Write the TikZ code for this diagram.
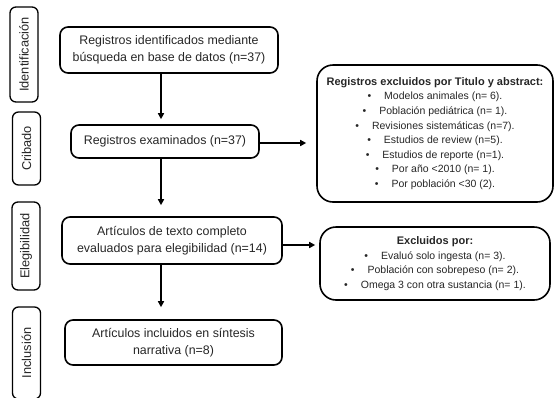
\documentclass[tikz,border=0pt]{standalone}
\usepackage{fontspec}
\setmainfont{Liberation Sans}
\usetikzlibrary{arrows.meta}
\tikzset{
  stage/.style={draw, line width=1.3pt, rounded corners=6pt, rotate=90,
    inner sep=0pt, minimum height=28pt, text=black!85,
    font=\fontsize{12.8}{14}\selectfont},
  flowbox/.style={draw, line width=1.6pt, rounded corners=8pt, inner sep=0pt,
    align=center, text=black!85, font=\fontsize{12.4}{17.5}\selectfont},
  exclbox/.style={draw, line width=1.6pt, rounded corners=16pt, inner sep=0pt,
    align=center, text=black!85, font=\fontsize{10.5}{14.6}\selectfont},
  flow/.style={-{Triangle[length=6pt,width=6pt]}, line width=1.6pt},
}
\newcommand{\itm}{\textbullet\hspace{13pt}}
\newcommand{\titl}[1]{{\fontsize{11}{14.6}\selectfont\bfseries #1}}

\begin{document}
\begin{tikzpicture}[x=1pt,y=-1pt]
  \useasboundingbox (0,0) rectangle (554,397);
  % fases
  \node[stage, minimum width=95pt] (fid) at (24,54.5) {Identificación};
  \node[stage, minimum width=73pt] (fcr) at (26.5,148.5) {Cribado};
  \node[stage, minimum width=88pt] (fel) at (26,246) {Elegibilidad};
  \node[stage, minimum width=92pt] (fin) at (26.5,353) {Inclusión};
  % cajas principales
  \node[flowbox, minimum width=218pt, minimum height=46pt] (reg) at (169,50)
    {Registros identificados mediante\\búsqueda en base de datos (n=37)};
  \node[flowbox, minimum width=188pt, minimum height=33pt] (exa) at (165,141.5)
    {Registros examinados (n=37)};
  \node[flowbox, minimum width=220pt, minimum height=47pt] (ele) at (172,240.5)
    {Artículos de texto completo\\evaluados para elegibilidad (n=14)};
  \node[flowbox, minimum width=217pt, minimum height=45pt] (inc) at (173.5,342.5)
    {Artículos incluidos en síntesis\\narrativa (n=8)};
  % excluidos
  \node[exclbox, minimum width=236pt, minimum height=137pt] (exc1) at (435,133.5)
    {\titl{Registros excluidos por Titulo y abstract:}\\
     \itm Modelos animales (n= 6).\\
     \itm Población pediátrica (n= 1).\\
     \itm Revisiones sistemáticas (n=7).\\
     \itm Estudios de review (n=5).\\
     \itm Estudios de reporte (n=1).\\
     \itm Por año <2010 (n= 1).\\
     \itm Por población <30 (2).};
  \node[exclbox, minimum width=230pt, minimum height=73pt] (exc2) at (435,263.5)
    {\titl{Excluidos por:}\\
     \itm Evaluó solo ingesta (n= 3).\\
     \itm Población con sobrepeso (n= 2).\\
     \itm Omega 3 con otra sustancia (n= 1).};
  % flechas
  \coordinate (ax) at (161,0);
  \draw[flow, shorten >=5pt] (reg.south -| ax) -- (exa.north -| ax);
  \draw[flow, shorten >=11pt] (exa.south -| ax) -- (ele.north -| ax);
  \draw[flow, shorten >=12pt] (ele.south -| ax) -- (inc.north -| ax);
  \draw[flow, shorten >=10pt] ([yshift=-1.5pt]exa.east) -- ([yshift=-1.5pt]exa.east -| exc1.west);
  \draw[flow, shorten >=4pt] ([yshift=-4.5pt]ele.east) -- ([yshift=-4.5pt]ele.east -| exc2.west);
\end{tikzpicture}
\end{document}
